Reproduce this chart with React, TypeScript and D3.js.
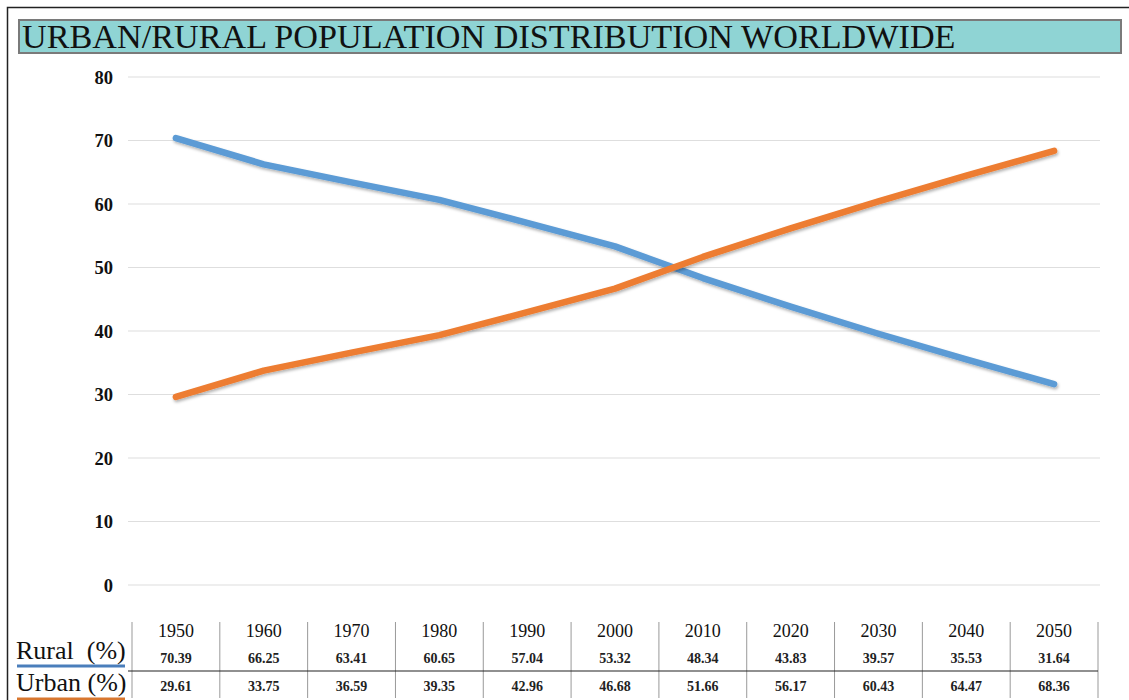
import React, { useEffect, useRef } from 'react';
import * as d3 from 'd3';

const years = ['1950', '1960', '1970', '1980', '1990', '2000', '2010', '2020', '2030', '2040', '2050'];
const rural = [70.39, 66.25, 63.41, 60.65, 57.04, 53.32, 48.34, 43.83, 39.57, 35.53, 31.64];
const urban = [29.61, 33.75, 36.59, 39.35, 42.96, 46.68, 51.66, 56.17, 60.43, 64.47, 68.36];
const yTicks = [0, 10, 20, 30, 40, 50, 60, 70, 80];

const W = 1129;
const H = 700;
const SERIF = '"Liberation Serif", "DejaVu Serif", serif';

const App: React.FC = () => {
  const svgRef = useRef<SVGSVGElement>(null);

  useEffect(() => {
    if (!svgRef.current) return;
    const svg = d3.select(svgRef.current);
    svg.selectAll('*').remove();

    const tableLeft = 132;
    const tableRight = 1098;

    const x = d3.scaleBand<string>().domain(years).range([tableLeft, tableRight]);
    const xc = (d: string) => (x(d) as number) + x.bandwidth() / 2;
    const y = d3.scaleLinear().domain([0, 80]).range([585, 77]);

    // outer frame
    svg.append('rect').attr('x', 7.5).attr('y', 7.5).attr('width', W).attr('height', H)
      .attr('fill', '#fff').attr('stroke', '#222').attr('stroke-width', 1.5);

    // title box
    svg.append('rect').attr('x', 19).attr('y', 20).attr('width', 1102).attr('height', 33)
      .attr('fill', '#8fd4d4').attr('stroke', '#7a7a7a').attr('stroke-width', 2);
    svg.append('text').attr('x', 22).attr('y', 48)
      .attr('font-family', SERIF).attr('font-size', 34.2).attr('fill', '#111')
      .text('URBAN/RURAL POPULATION DISTRIBUTION WORLDWIDE');

    // grid + y labels
    const grid = svg.append('g');
    yTicks.forEach(t => {
      grid.append('line').attr('x1', 128).attr('x2', 1100).attr('y1', y(t)).attr('y2', y(t))
        .attr('stroke', '#dedede').attr('stroke-width', 1.2);
      grid.append('text').attr('x', 113).attr('y', y(t) + 6.5).attr('text-anchor', 'end')
        .attr('font-family', SERIF).attr('font-size', 18.5).attr('font-weight', 'bold').attr('fill', '#111')
        .text(t);
    });

    // shadow filter
    const defs = svg.append('defs');
    const f = defs.append('filter').attr('id', 'shadow').attr('x', '-5%').attr('y', '-5%').attr('width', '110%').attr('height', '120%');
    f.append('feDropShadow').attr('dx', 1).attr('dy', 2).attr('stdDeviation', 1.5).attr('flood-color', '#000').attr('flood-opacity', 0.3);

    const line = d3.line<number>().x((_, i) => xc(years[i])).y(d => y(d));
    const series = [
      { values: rural, color: '#5b9bd5' },
      { values: urban, color: '#ed7d31' },
    ];
    series.forEach(s => {
      svg.append('path').attr('d', line(s.values)).attr('fill', 'none')
        .attr('stroke', s.color).attr('stroke-width', 6.5).attr('stroke-linecap', 'round')
        .attr('stroke-linejoin', 'round').attr('filter', 'url(#shadow)');
    });

    // data table
    const table = svg.append('g');
    years.forEach((yr, i) => {
      table.append('line').attr('x1', x(yr) as number).attr('x2', x(yr) as number)
        .attr('y1', 622).attr('y2', 698).attr('stroke', '#999').attr('stroke-width', 1);
      if (i === years.length - 1) {
        table.append('line').attr('x1', tableRight).attr('x2', tableRight)
          .attr('y1', 622).attr('y2', 698).attr('stroke', '#999').attr('stroke-width', 1);
      }
      table.append('text').attr('x', xc(yr)).attr('y', 637).attr('text-anchor', 'middle')
        .attr('font-family', SERIF).attr('font-size', 18).attr('fill', '#111').text(yr);
      table.append('text').attr('x', xc(yr)).attr('y', 663).attr('text-anchor', 'middle')
        .attr('font-family', SERIF).attr('font-size', 14).attr('font-weight', 'bold').attr('fill', '#222')
        .text(rural[i].toFixed(2));
      table.append('text').attr('x', xc(yr)).attr('y', 691).attr('text-anchor', 'middle')
        .attr('font-family', SERIF).attr('font-size', 14).attr('font-weight', 'bold').attr('fill', '#222')
        .text(urban[i].toFixed(2));
    });
    table.append('line').attr('x1', 128).attr('x2', tableRight).attr('y1', 671).attr('y2', 671)
      .attr('stroke', '#222').attr('stroke-width', 1.2);

    // row labels
    table.append('text').attr('x', 16).attr('y', 659)
      .attr('font-family', SERIF).attr('font-size', 26).attr('fill', '#111')
      .attr('xml:space', 'preserve').text('Rural  (%)');
    table.append('line').attr('x1', 17).attr('x2', 125).attr('y1', 666).attr('y2', 666)
      .attr('stroke', '#4a7ebb').attr('stroke-width', 3);
    table.append('text').attr('x', 16).attr('y', 691)
      .attr('font-family', SERIF).attr('font-size', 26).attr('fill', '#111')
      .text('Urban (%)');
    table.append('line').attr('x1', 17).attr('x2', 125).attr('y1', 699).attr('y2', 699)
      .attr('stroke', '#d8772f').attr('stroke-width', 3);
  }, []);

  return (
    <div style={{ position: 'fixed', left: 0, top: 0, width: W, height: H, background: '#fff' }}>
      <svg ref={svgRef} width={W} height={H} style={{ display: 'block' }} />
    </div>
  );
};

export default App;
